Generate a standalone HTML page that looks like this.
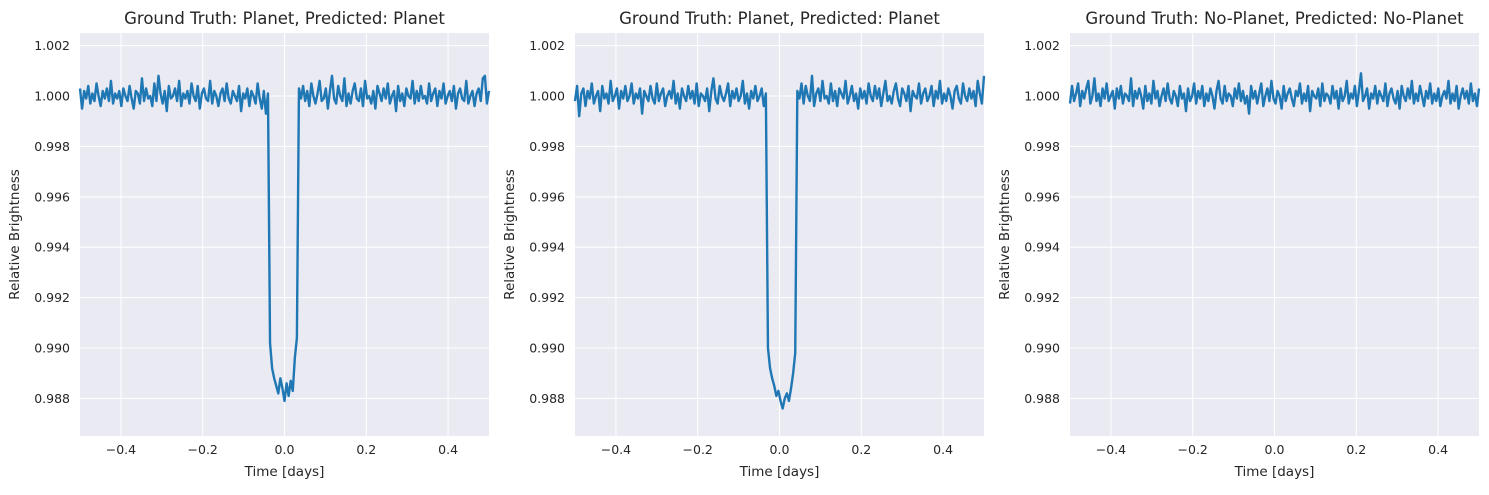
<!DOCTYPE html>
<html><head><meta charset="utf-8">
<style>
body{margin:0;background:#fff;font-family:"Liberation Sans","DejaVu Sans",sans-serif;}
svg text{font-family:"DejaVu Sans","Liberation Sans",sans-serif;}
</style></head>
<body>
<svg id="fig" width="1489" height="490" xmlns="http://www.w3.org/2000/svg"></svg>
<script>
// values are deviations from 1.0 in units of 1e-4, evenly spaced over t in [-0.5, 0.5]
const titles = ["Ground Truth: Planet, Predicted: Planet","Ground Truth: Planet, Predicted: Planet","Ground Truth: No-Planet, Predicted: No-Planet"];
const xTicks = [-0.4,-0.2,0.0,0.2,0.4];
const xTickLabels = ["\u22120.4","\u22120.2","0.0","0.2","0.4"];
const yTicks = [0.988,0.990,0.992,0.994,0.996,0.998,1.000,1.002];
const yTickLabels = ["0.988","0.990","0.992","0.994","0.996","0.998","1.000","1.002"];
const series1 = [3,-5,2,-1,4,-3,1,-2,5,0,-4,2,-1,3,-2,6,-3,1,-1,2,-4,3,0,-2,4,-1,-5,2,1,-3,7,-2,3,-1,0,-4,5,-2,8,1,-3,2,-6,4,-1,0,3,-2,6,-4,1,-1,2,-3,5,0,-2,4,-5,1,3,-1,-2,6,-3,2,0,-4,1,3,-2,5,-1,-3,2,0,-2,4,-6,1,-1,3,-4,2,0,-3,5,-1,-5,2,-7,1,
-98,-108,-112,-115,-118,-112,-116,-121,-114,-119,-113,-117,-104,-96,
3,-1,4,-2,2,-4,5,0,-3,1,6,-2,-1,3,-5,2,8,-1,-3,4,0,-2,7,-4,1,-3,2,5,-1,-2,3,-4,6,-1,0,-3,2,-5,4,1,-2,3,-1,5,-3,0,2,-6,4,-2,1,-4,3,0,-1,6,-3,2,-2,4,-1,0,-3,5,-2,1,3,-4,2,-1,5,-3,0,2,-2,4,-5,1,3,-1,-2,6,-3,0,2,-4,1,3,-2,7,8,-3,2];
const series2 = [-2,4,-8,1,3,-4,2,-1,5,-3,0,2,-6,4,-1,1,-3,6,-2,0,3,-5,2,-1,4,-2,0,5,-3,1,-1,3,-7,2,0,-2,4,-1,-3,5,-2,1,3,-4,0,2,-1,6,-3,1,-5,3,0,-2,4,-1,2,-3,5,-4,1,0,-2,3,-6,2,7,-1,-3,4,0,-2,1,5,-4,2,-1,3,-2,0,6,-3,1,-5,2,-1,4,-2,0,3,-4,1,
-100,-108,-112,-115,-119,-117,-121,-124,-120,-118,-121,-116,-110,-102,
2,-1,5,-3,4,0,-2,8,-4,1,3,-2,6,-1,0,-3,5,-2,2,-4,3,1,-1,6,-3,0,4,-2,1,-5,3,-1,2,-3,5,0,-2,4,-1,3,-4,1,6,-2,0,-3,2,5,-1,-4,3,1,-2,4,-6,2,0,-1,5,-3,1,3,-2,0,4,-4,2,-1,6,-3,1,-2,3,0,-5,2,4,-1,-3,5,0,-2,3,-1,2,-4,6,1,-3,8];
const series3 = [-3,4,-2,1,5,-4,2,-1,3,6,-3,0,7,-2,1,-4,3,-1,5,-2,0,2,-5,3,-1,4,-3,1,0,-2,7,-4,2,-1,3,0,-5,4,-2,1,-3,6,-1,2,-4,0,3,-2,5,-1,-3,2,0,-4,4,-1,1,-6,3,-2,0,5,-3,2,-1,4,-4,1,-2,3,0,-5,2,6,-1,-3,4,-2,1,0,-4,3,-1,5,-2,2,-3,0,-7,4,-1,2,-3,1,5,-4,0,3,-2,6,-1,-3,2,0,-5,4,-2,1,3,-1,-4,2,0,5,-3,1,-2,4,-6,2,0,-1,3,-4,5,-2,1,0,-3,4,-1,2,-5,3,-2,0,6,-3,1,-1,4,-4,2,9,-2,0,3,-5,1,-1,4,-3,2,0,-2,5,-4,1,3,-1,-3,2,-5,4,0,-2,3,-1,6,-3,1,-2,4,0,-4,2,-1,5,-3,1,-2,3,-4,0,2,-1,6,-3,1,-2,4,-5,0,3,-1,2,-3,5,-2,1,-4,3];
const seriesList = [series1, series2, series3];

const NS = "http://www.w3.org/2000/svg";
const svg = document.getElementById('fig');
const panels = [80, 575, 1070];
const W = 409, plotTop = 33, plotBottom = 436;
const yMin = 0.98651, yMax = 1.0025;
function mk(tag, attrs, parent){const e=document.createElementNS(NS,tag);for(const k in attrs)e.setAttribute(k,attrs[k]);(parent||svg).appendChild(e);return e;}

panels.forEach((x0, p) => {
  const sx = t => x0 + (t + 0.5) / 1.0 * W;
  const sy = v => plotTop + (yMax - v) / (yMax - yMin) * (plotBottom - plotTop);
  const g = mk('g', {});
  
  
  const bg = mk('rect', {x: x0, y: plotTop, width: W, height: plotBottom - plotTop, fill: '#eaeaf2'}, g);
  
  
  xTicks.forEach((t, i) => {
    const X = sx(t);
    const gl = mk('line', {x1: X, x2: X, y1: plotTop, y2: plotBottom, stroke: '#fff', 'stroke-width': 1}, g);
    
    
    const tl = mk('text', {x: X, y: plotBottom + 18, 'text-anchor': 'middle', 'font-size': 12.5, fill: '#262626'}, g);
    tl.textContent = xTickLabels[i];
    
    
  });
  yTicks.forEach((v, i) => {
    const Y = sy(v);
    const gl = mk('line', {x1: x0, x2: x0 + W, y1: Y, y2: Y, stroke: '#fff', 'stroke-width': 1}, g);
    
    
    const tl = mk('text', {x: x0 - 10, y: Y + 4.5, 'text-anchor': 'end', 'font-size': 12.5, fill: '#262626'}, g);
    tl.textContent = yTickLabels[i];
    
    
  });
  const s = seriesList[p];
  const n = s.length;
  let d = '';
  s.forEach((v, i) => {
    const t = -0.5 + i / (n - 1);
    d += (i ? 'L' : 'M') + sx(t).toFixed(2) + ',' + sy(1 + v * 1e-4).toFixed(2);
  });
  const path = mk('path', {d: d, fill: 'none', stroke: '#1f77b4', 'stroke-width': 2.4, 'stroke-linejoin': 'round'}, g);
  
  
  const ti = mk('text', {x: x0 + W / 2, y: 24, 'text-anchor': 'middle', 'font-size': 16.5, fill: '#262626'}, g);
  ti.textContent = titles[p];
  
  
  const xl = mk('text', {x: x0 + W / 2, y: 476, 'text-anchor': 'middle', 'font-size': 13.5, fill: '#262626'}, g);
  xl.textContent = 'Time [days]';
  
  
  const yl = mk('text', {x: 0, y: 0, 'text-anchor': 'middle', 'font-size': 13.5, fill: '#262626', transform: 'translate(' + (x0 - 61) + ',' + ((plotTop + plotBottom) / 2) + ') rotate(-90)'}, g);
  yl.textContent = 'Relative Brightness';
  
  
});
</script>
</body></html>
